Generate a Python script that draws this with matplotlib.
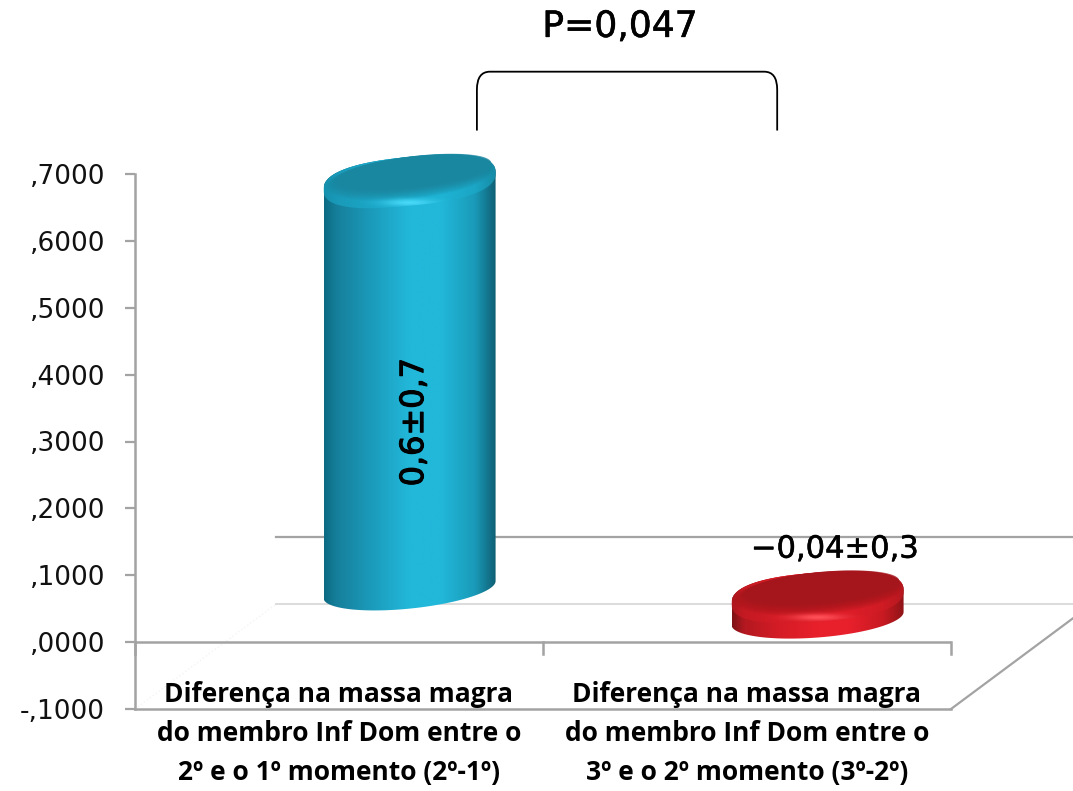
import matplotlib.patheffects as pe
import matplotlib.pyplot as plt
import numpy as np
from matplotlib.colors import LinearSegmentedColormap, to_rgb
from matplotlib.patches import PathPatch
from matplotlib.path import Path

categories = [
    "Diferença na massa magra\ndo membro Inf Dom entre o\n2º e o 1º momento (2º-1º)",
    "Diferença na massa magra\ndo membro Inf Dom entre o\n3º e o 2º momento (3º-2º)",
]
values = [0.6105, -0.032]
value_labels = ["0,6±0,7", "−0,04±0,3"]
y_ticks = [-0.1, 0.0, 0.1, 0.2, 0.3, 0.4, 0.5, 0.6, 0.7]
y_tick_labels = ["-,1000", ",0000", ",1000", ",2000", ",3000", ",4000", ",5000", ",6000", ",7000"]

plt.rcParams["font.family"] = ["DejaVu Sans"]

W, H = 1073, 791
AXIS = "#a3a3a3"
PX_X = 1 / 408  # one pixel in category units
PX_Y = 1 / 669  # one pixel in value units
DEPTH_X, DEPTH_Y = 0.346, 0.157  # floor depth of the 3D box

BLUE = {
    "stops": ["#0c6a82", "#167f9b", "#1b9aba", "#22b8da", "#22b8da", "#1a9ab8", "#0f5f74"],
    "face": "#1a87a0",
    "rim": "#1cb0d0",
    "glow": "#48d8f8",
    "shear": 8.5,
    "base": 0.0785,
}
RED = {
    "stops": ["#7d1215", "#b31820", "#d41c26", "#e8202c", "#e8202c", "#c81a22", "#8f1418"],
    "face": "#a5161c",
    "rim": "#d41c26",
    "glow": "#ff5058",
    "shear": 6.5,
    "base": 0.0673,
}
STOPS_AT = [0, 0.07, 0.27, 0.5, 0.68, 0.88, 1]


def ellipse_xy(xc, yc, a, b, shear, t, power=1.0):
    # power below 1 squares off the ellipse a little, for the rounded shoulders
    c = np.sign(np.cos(t)) * np.abs(np.cos(t)) ** power
    s = np.sign(np.sin(t)) * np.abs(np.sin(t)) ** power
    return xc + a * c, yc + b * s + shear * c


def clipped_image(ax, fig, img, patch, **kw):
    im = ax.imshow(img, aspect="auto", origin="lower", zorder=3, **kw)
    im.set_clip_path(patch)
    im.set_clip_box(fig.bbox)
    return im


def draw_cylinder(ax, fig, center, value, style):
    a = 86 * PX_X
    b_top = 24.5 * PX_Y
    b_bot = 19 * PX_Y
    shear = style["shear"] * PX_Y
    xc = center + DEPTH_X / 2
    base = style["base"]
    low, high = min(base, base + value), max(base, base + value)
    cmap = LinearSegmentedColormap.from_list("body", list(zip(STOPS_AT, style["stops"])))
    grad = np.linspace(0, 1, 256).reshape(1, -1)
    extent = (xc - a, xc + a, low - 0.05, high + 0.05)

    # side of the cylinder
    t1 = np.linspace(np.pi, 2 * np.pi, 80)
    t2 = np.linspace(0, np.pi, 80)
    xb, yb = ellipse_xy(xc, low, a, b_bot, shear, t1)
    xt, yt = ellipse_xy(xc, high, a, b_top, shear, t2, power=0.8)
    verts = np.column_stack([np.r_[xb, xt], np.r_[yb, yt]])
    body = PathPatch(Path(np.vstack([verts, verts[0]]), closed=True), transform=ax.transData)
    clipped_image(ax, fig, grad, body, cmap=cmap, extent=extent, interpolation="bilinear")

    xe, ye = ellipse_xy(xc, high, a, b_top, shear, np.linspace(0, 2 * np.pi, 200), power=0.8)
    top = PathPatch(Path(np.column_stack([xe, ye]), closed=True), transform=ax.transData)
    clipped_image(ax, fig, grad, top, cmap=cmap, extent=extent, interpolation="bilinear")

    # lit rounded rim, fading into the flat top face
    ax.fill(xe, ye, color=style["rim"], alpha=0.55, lw=0, zorder=4, clip_on=False)
    face_c = to_rgb(style["face"])
    steps = 12
    for i in range(steps):
        f = i / (steps - 1)
        aa = a * (0.97 - 0.08 * f)
        bb = b_top * (0.85 - 0.22 * f)
        x_i, y_i = ellipse_xy(
            xc + 5 * PX_X * f, high + (3 + 7 * f) * PX_Y, aa, bb, shear, np.linspace(0, 2 * np.pi, 160)
        )
        ax.fill(x_i, y_i, color=face_c, alpha=0.14 + 0.5 * f**3, lw=0, zorder=4, clip_on=False)

    # small highlight on the front of the rim
    n = 120
    gx, gy = np.meshgrid(np.linspace(-1, 1, n), np.linspace(-1, 1, n))
    rim = np.ones((n, n, 4))
    rim[..., :3] = to_rgb(style["glow"])
    rim[..., 3] = np.exp(-((gx / 0.30) ** 2 + ((gy + 0.66) / 0.11) ** 2))
    glow = ax.imshow(
        rim,
        aspect="auto",
        origin="lower",
        extent=(xc - a, xc + a, high - b_top - shear, high + b_top + shear),
        zorder=5,
    )
    glow.set_clip_path(top)
    glow.set_clip_box(fig.bbox)


fig = plt.figure(figsize=(W / 100, H / 100), dpi=100)
ax = fig.add_axes([135 / W, (H - 709) / H, 816 / W, 535 / H])

# back wall and floor of the box
x_back = -0.5 + DEPTH_X
x_end = 2.0
ax.plot([x_back, x_end], [DEPTH_Y, DEPTH_Y], color=AXIS, lw=1.6, clip_on=False, zorder=1)
ax.plot([x_back, x_end], [-0.1 + DEPTH_Y] * 2, color="#dcdcdc", lw=1.4, clip_on=False, zorder=1)
ax.plot([-0.5, x_back], [-0.1, -0.1 + DEPTH_Y], color="#f4f4f4", lw=1, ls=":", clip_on=False, zorder=1)
ax.plot(
    [1.5, 1.5 + DEPTH_X * 0.87],
    [-0.1, -0.1 + DEPTH_Y * 0.87],
    color=AXIS,
    lw=1.6,
    clip_on=False,
    zorder=1,
)

for i, (val, style) in enumerate(zip(values, [BLUE, RED])):
    draw_cylinder(ax, fig, i, val, style)

ax.set_xlim(-0.5, 1.5)
ax.set_ylim(-0.1, 0.7)

# front axes
ax.axhline(0, color=AXIS, lw=1.8, zorder=2)
for x in [-0.5, 0.5, 1.5]:
    ax.plot([x, x], [0, -12 * PX_Y], color=AXIS, lw=1.8, clip_on=False, zorder=2)
for side in ["top", "right"]:
    ax.spines[side].set_visible(False)
for side in ["left", "bottom"]:
    ax.spines[side].set_color(AXIS)
    ax.spines[side].set_linewidth(1.8)
ax.patch.set_alpha(0)
ax.set_xticks([])
ax.set_yticks(y_ticks)
ax.set_yticklabels(y_tick_labels, fontsize=19, color="#111111")
ax.tick_params(axis="y", length=7.5, width=1.6, color=AXIS, pad=14)

for i, label in enumerate(categories):
    ax.text(
        i, -0.136, label, ha="center", va="center", fontsize=19, family="Open Sans",
        fontweight="bold", linespacing=1.57, color="black", clip_on=False,
    )

heavy = [pe.withStroke(linewidth=0.8, foreground="black")]
ax.text(DEPTH_X / 2 + 5 * PX_X, 0.329, value_labels[0], rotation=90, ha="center", va="center",
        fontsize=23, color="black", zorder=6, path_effects=heavy)
ax.text(1.215, 0.139, value_labels[1], ha="center", va="center",
        fontsize=22, color="black", zorder=6, path_effects=[pe.withStroke(linewidth=0.4, foreground="black")])

# significance bracket
bx0, bx1 = 0.338, 1.074
by0, by1 = 0.765, 0.853
dx, dy = 13 * PX_X, 18 * PX_Y
bracket = Path(
    [(bx0, by0), (bx0, by1 - dy), (bx0, by1), (bx0 + dx, by1), (bx1 - dx, by1), (bx1, by1), (bx1, by1 - dy), (bx1, by0)],
    [Path.MOVETO, Path.LINETO, Path.CURVE3, Path.CURVE3, Path.LINETO, Path.CURVE3, Path.CURVE3, Path.LINETO],
)
ax.add_patch(PathPatch(bracket, fill=False, ec="black", lw=1.3, clip_on=False))
ax.text(0.689, 0.92, "P=0,047", ha="center", va="center", fontsize=26, color="black", clip_on=False,
        path_effects=[pe.withStroke(linewidth=0.4, foreground="black")])

fig.savefig("out.png", dpi=100)
